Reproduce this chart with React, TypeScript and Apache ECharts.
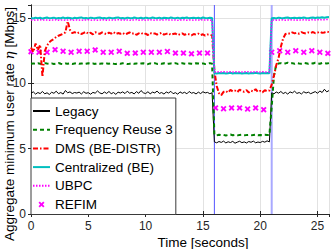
import React, { useEffect, useRef } from "react";
import * as echarts from "echarts";

// ---------------- data ----------------
const SAMPLE_STEP = 0.2; // seconds between samples
const segmentStarts = [0, 16, 21]; // start time of each segment [s]
const eventTimes = [16, 21]; // vertical markers [s]
const REFIM_PERIOD = 0.7; // seconds between REFIM markers

const X_MIN = 0, X_MAX = 26, X_STEP = 5;
const Y_MIN = 0, Y_MAX = 16, Y_STEP = 5;

const seriesNames = [
  "Legacy",
  "Frequency Reuse 3",
  "DMS (BE-DISTR)",
  "Centralized (BE)",
  "UBPC",
  "REFIM",
];

const legacyBefore = [
  9.25, 9.35, 9.18, 9.3, 9.22, 9.38, 9.2, 9.28, 9.15, 9.32,
  9.24, 9.4, 9.21, 9.3, 9.18, 9.45, 9.28, 9.35, 9.22, 9.3,
  9.26, 9.33, 9.19, 9.36, 9.24, 9.29, 9.17, 9.31, 9.25, 9.42,
  9.27, 9.2, 9.34, 9.23, 9.38, 9.21, 9.3, 9.16, 9.33, 9.26,
  9.35, 9.22, 9.4, 9.25, 9.31, 9.19, 9.37, 9.24, 9.45, 9.28,
  9.22, 9.36, 9.2, 9.33, 9.27, 9.41, 9.23, 9.3, 9.18, 9.34,
  9.26, 9.39, 9.21, 9.29, 9.17, 9.35, 9.24, 9.32, 9.2, 9.38,
  9.25, 9.3, 9.19, 9.33, 9.22, 9.36, 9.27, 9.31, 9.21, 9.28,
];
const legacyDuring = [
  5.52, 5.45, 5.55, 5.48, 5.58, 5.44, 5.53, 5.47, 5.56, 5.42,
  5.5, 5.57, 5.46, 5.52, 5.44, 5.55, 5.49, 5.58, 5.45, 5.51,
  5.47, 5.56, 5.5, 5.6, 5.52,
];
const legacyAfter = [
  9.28, 9.2, 9.34, 9.25, 9.38, 9.22, 9.31, 9.18, 9.35, 9.27,
  9.4, 9.23, 9.3, 9.19, 9.36, 9.26, 9.33, 9.21, 9.29, 9.37,
  9.24, 9.42, 9.3, 9.55, 9.35, 9.45,
];

const reuseBefore = [
  11.5, 11.53, 11.49, 11.54, 11.51, 11.48, 11.55, 11.52, 11.5, 11.53,
  11.49, 11.52, 11.56, 11.5, 11.48, 11.53, 11.51, 11.54, 11.49, 11.52,
  11.55, 11.5, 11.53, 11.48, 11.51, 11.54, 11.5, 11.52, 11.49, 11.55,
  11.51, 11.53, 11.48, 11.52, 11.5, 11.56, 11.51, 11.49, 11.53, 11.5,
  11.54, 11.52, 11.48, 11.51, 11.55, 11.5, 11.53, 11.49, 11.52, 11.54,
  11.5, 11.47, 11.53, 11.51, 11.55, 11.49, 11.52, 11.5, 11.54, 11.48,
  11.51, 11.53, 11.5, 11.55, 11.49, 11.52, 11.54, 11.5, 11.48, 11.53,
  11.51, 11.49, 11.54, 11.52, 11.5, 11.53, 11.48, 11.52, 11.55, 11.5,
];
const reuseDuring = [
  6.05, 6.02, 6.07, 6.04, 6.06, 6.01, 6.05, 6.08, 6.03, 6.06,
  6.02, 6.05, 6.07, 6.03, 6.04, 6.06, 6.02, 6.05, 6.08, 6.03,
  6.05, 6.02, 6.06, 6.04, 6.05,
];
const reuseAfter = [
  8.2, 10.6, 11.45, 11.52, 11.55, 11.5, 11.53, 11.58, 11.52, 11.55,
  11.5, 11.56, 11.53, 11.51, 11.57, 11.54, 11.5, 11.55, 11.52, 11.58,
  11.53, 11.5, 11.56, 11.54, 11.52, 11.55,
];

const dmsBefore = [
  12.75, 12.4, 13.05, 12.55, 12.95, 10.5, 12.45, 12.9, 13.15, 13.3,
  13.4, 13.55, 13.65, 13.72, 13.8, 13.9, 14.75, 14.1, 13.85, 13.92,
  13.82, 13.9, 13.78, 13.86, 13.95, 13.8, 13.88, 13.75, 13.92, 13.84,
  13.79, 13.9, 13.83, 13.76, 13.88, 13.81, 13.93, 13.78, 13.85, 13.8,
  13.87, 13.74, 13.82, 13.9, 13.79, 13.85, 13.72, 13.83, 13.88, 13.76,
  13.81, 13.7, 13.86, 13.78, 13.83, 13.74, 13.8, 13.87, 13.73, 13.79,
  13.84, 13.71, 13.78, 13.82, 13.69, 13.77, 13.83, 13.72, 13.8, 13.75,
  13.68, 13.78, 13.73, 13.81, 13.7, 13.76, 13.66, 13.74, 13.7, 13.68,
];
const dmsDuring = [
  11.0, 9.8, 9.25, 9.1, 9.35, 9.42, 9.3, 9.5, 9.38, 9.45,
  9.33, 9.52, 9.4, 9.36, 9.48, 9.3, 9.44, 9.38, 9.55, 9.35,
  9.42, 9.32, 9.47, 9.4, 9.45,
];
const dmsAfter = [
  9.9, 10.6, 11.4, 11.95, 12.8, 13.45, 13.78, 13.85, 13.8, 13.9,
  13.83, 13.88, 13.8, 13.92, 13.85, 13.82, 13.9, 13.86, 13.93, 13.84,
  13.88, 13.95, 13.87, 13.9, 13.96, 13.92,
];

const centralBefore = [
  15.0, 14.97, 15.03, 14.99, 15.02, 14.96, 15.01, 15.04, 14.98, 15.0,
  15.03, 14.97, 15.01, 14.99, 15.04, 14.98, 15.02, 15.0, 14.96, 15.03,
  14.99, 15.02, 15.05, 14.98, 15.01, 14.97, 15.03, 15.0, 14.98, 15.02,
  15.04, 14.99, 15.01, 14.97, 15.03, 15.0, 14.98, 15.02, 15.05, 14.99,
  15.01, 14.97, 15.03, 15.0, 14.98, 15.04, 15.01, 14.99, 15.02, 14.97,
  15.03, 15.0, 14.98, 15.05, 15.01, 14.99, 15.03, 14.97, 15.02, 15.0,
  14.98, 15.04, 15.01, 14.99, 15.03, 14.97, 15.02, 15.0, 15.04, 14.98,
  15.01, 15.03, 14.99, 15.02, 14.97, 15.04, 15.0, 14.98, 15.02, 15.01,
];
const centralDuring = [
  10.78, 10.76, 10.8, 10.77, 10.79, 10.75, 10.78, 10.81, 10.76, 10.79,
  10.77, 10.8, 10.75, 10.78, 10.8, 10.76, 10.79, 10.77, 10.81, 10.78,
  10.75, 10.79, 10.77, 10.8, 10.78,
];
const centralAfter = [
  14.98, 15.01, 14.97, 15.03, 15.0, 14.98, 15.02, 15.04, 14.99, 15.01,
  15.03, 14.98, 15.02, 15.0, 15.04, 15.01, 14.99, 15.03, 15.05, 15.01,
  15.04, 15.02, 15.06, 15.03, 15.07, 15.08,
];

const ubpcBefore = [
  14.85, 14.86, 14.84, 14.85, 14.87, 14.84, 14.86, 14.85, 14.83, 14.86,
  14.85, 14.87, 14.84, 14.85, 14.86, 14.84, 14.85, 14.87, 14.85, 14.84,
  14.86, 14.85, 14.83, 14.86, 14.85, 14.87, 14.84, 14.86, 14.85, 14.84,
  14.86, 14.85, 14.87, 14.84, 14.85, 14.86, 14.84, 14.85, 14.87, 14.85,
  14.84, 14.86, 14.85, 14.83, 14.86, 14.85, 14.87, 14.84, 14.86, 14.85,
  14.84, 14.86, 14.85, 14.87, 14.84, 14.85, 14.86, 14.84, 14.85, 14.87,
  14.85, 14.84, 14.86, 14.85, 14.83, 14.86, 14.85, 14.87, 14.84, 14.86,
  14.85, 14.84, 14.86, 14.85, 14.87, 14.84, 14.85, 14.86, 14.84, 14.85,
];
const ubpcDuring = [
  10.88, 10.89, 10.87, 10.88, 10.9, 10.87, 10.88, 10.89, 10.87, 10.88,
  10.89, 10.88, 10.87, 10.89, 10.88, 10.9, 10.87, 10.88, 10.89, 10.88,
  10.87, 10.89, 10.88, 10.87, 10.88,
];
const ubpcAfter = [
  14.85, 14.86, 14.84, 14.86, 14.85, 14.87, 14.84, 14.86, 14.85, 14.87,
  14.85, 14.84, 14.86, 14.85, 14.87, 14.86, 14.84, 14.86, 14.88, 14.85,
  14.87, 14.86, 14.88, 14.87, 14.89, 14.9,
];

const refimValues = [
  12.43, 12.38, 12.38, 12.58, 12.46, 12.38, 12.46, 12.46, 12.56, 12.38,
  12.38, 12.46, 12.3, 12.32, 12.38, 12.38, 12.38, 12.44, 12.32, 12.32,
  12.26, 12.32, 12.32, 8.12, 8.06, 8.12, 8.12, 8.04, 8.12, 7.99,
  12.38, 12.5, 12.38, 12.5, 12.38, 12.5, 12.38, 12.3,
];

// ---------------- helpers ----------------
const toPairs = (segments: number[][]) =>
  segments.flatMap((vals, s) =>
    vals.map((v, i) => [+(segmentStarts[s] + i * SAMPLE_STEP).toFixed(2), v])
  );

const FONT = "'Liberation Sans', Arial, Helvetica, sans-serif";
const AXIS_COLOR = "#262626";
const X_MARK =
  "path://M0,2.2L2.2,0L5,2.8L7.8,0L10,2.2L7.2,5L10,7.8L7.8,10L5,7.2L2.2,10L0,7.8L2.8,5Z";
const HIDDEN_ITEM = { color: "rgba(0,0,0,0)", borderColor: "rgba(0,0,0,0)", borderWidth: 0 };

export default function App() {
  const ref = useRef<HTMLDivElement>(null);

  useEffect(() => {
    if (!ref.current) return;
    const chart = echarts.init(ref.current, null, { renderer: "svg" });

    const lineBase = {
      type: "line" as const,
      symbol: "circle",
      symbolSize: 0,
      showSymbol: false,
      animation: false,
      clip: true,
      itemStyle: HIDDEN_ITEM,
    };

    const axisCommon = {
      type: "value" as const,
      axisLine: { show: true, lineStyle: { color: AXIS_COLOR, width: 1 } },
      axisTick: { show: true, inside: true, length: 3, lineStyle: { color: AXIS_COLOR } },
    };

    const labelCommon = {
      show: true,
      fontSize: 12,
      lineHeight: 9,
      color: AXIS_COLOR,
      fontFamily: FONT,
      showMaxLabel: false,
    };

    const option: any = {
      animation: false,
      textStyle: { fontFamily: FONT },
      grid: {
        left: 31,
        right: 3,
        top: 5,
        bottom: 35,
        containLabel: false,
        outerBoundsMode: "none",
      },
      xAxis: [
        {
          ...axisCommon,
          min: X_MIN,
          max: X_MAX,
          interval: X_STEP,
          position: "bottom",
          axisLabel: {
            ...labelCommon,
            margin: 7.5,
            formatter: (v: number) => (v % X_STEP === 0 ? String(v) : ""),
          },
          splitLine: { show: true, lineStyle: { color: "#e2e2e2", width: 1 } },
        },
        {
          ...axisCommon,
          min: X_MIN,
          max: X_MAX,
          interval: X_STEP,
          position: "top",
          axisLabel: { show: false },
          splitLine: { show: false },
        },
      ],
      yAxis: [
        {
          ...axisCommon,
          min: Y_MIN,
          max: Y_MAX,
          interval: Y_STEP,
          position: "left",
          axisLabel: {
            ...labelCommon,
            margin: 5,
            formatter: (v: number) => (v % Y_STEP === 0 ? String(v) : ""),
          },
          splitLine: { show: true, lineStyle: { color: "#e2e2e2", width: 1 } },
        },
        {
          ...axisCommon,
          min: Y_MIN,
          max: Y_MAX,
          interval: Y_STEP,
          position: "right",
          axisLabel: { show: false },
          splitLine: { show: false },
        },
      ],
      legend: {
        show: true,
        orient: "vertical",
        left: 31,
        top: 98,
        padding: [5, 3, 2, 1],
        itemWidth: 17,
        itemHeight: 6,
        itemGap: 2.7,
        backgroundColor: "#ffffff",
        borderColor: "#3a3a3a",
        borderWidth: 1,
        borderRadius: 0,
        selectedMode: false,
        textStyle: { fontSize: 13.5, color: "#000", fontFamily: FONT, lineHeight: 16 },
        data: seriesNames,
        z: 10,
      },
      series: [
        ...eventTimes.map((t, i) => ({
          ...lineBase,
          name: "event" + i,
          data: [
            [t, Y_MIN],
            [t, Y_MAX],
          ],
          lineStyle: i === 0
            ? { color: "#5555ff", width: 1 }
            : { color: "#a9a9ff", width: 2 },
          z: 1,
        })),
        {
          ...lineBase,
          name: seriesNames[0],
          data: toPairs([legacyBefore, legacyDuring, legacyAfter]),
          lineStyle: { color: "#000000", width: 1 },
        },
        {
          ...lineBase,
          name: seriesNames[1],
          data: toPairs([reuseBefore, reuseDuring, reuseAfter]),
          lineStyle: { color: "#008000", width: 2, type: [4, 3] },
        },
        {
          ...lineBase,
          name: seriesNames[2],
          data: toPairs([dmsBefore, dmsDuring, dmsAfter]),
          lineStyle: { color: "#ff0000", width: 2, type: [5, 2, 1.5, 2] },
        },
        {
          ...lineBase,
          name: seriesNames[3],
          data: toPairs([centralBefore, centralDuring, centralAfter]),
          lineStyle: { color: "#00bfbf", width: 2 },
        },
        {
          ...lineBase,
          name: seriesNames[4],
          data: toPairs([ubpcBefore, ubpcDuring, ubpcAfter]),
          lineStyle: { color: "#ff00ff", width: 1.5, type: [1.5, 1.5] },
        },
        {
          type: "scatter",
          name: seriesNames[5],
          data: refimValues.map((v, k) => [+(k * REFIM_PERIOD).toFixed(2), v]),
          symbol: X_MARK,
          symbolSize: 6,
          itemStyle: { color: "#ff00ff", opacity: 1 },
          animation: false,
        },
      ],
      graphic: [
        {
          type: "text",
          x: 9,
          y: 124,
          rotation: Math.PI / 2,
          style: {
            text: "Aggregate minimum user rate {i|η} [Mbps]",
            fontSize: 13.5,
            fontFamily: FONT,
            fill: "#000",
            align: "center",
            verticalAlign: "middle",
            rich: {
              i: { fontStyle: "italic", fontSize: 13.5, fontFamily: "'DejaVu Serif', serif", fill: "#000" },
            },
          },
        },
        {
          type: "text",
          x: 203,
          y: 242,
          style: {
            text: "Time [seconds]",
            fontSize: 13.5,
            fontFamily: FONT,
            fill: "#000",
            align: "center",
            verticalAlign: "middle",
          },
        },
      ],
    };

    chart.setOption(option);
    return () => chart.dispose();
  }, []);

  return (
    <div
      ref={ref}
      style={{ position: "fixed", left: 0, top: 0, width: 332, height: 249, background: "#fff" }}
    />
  );
}
